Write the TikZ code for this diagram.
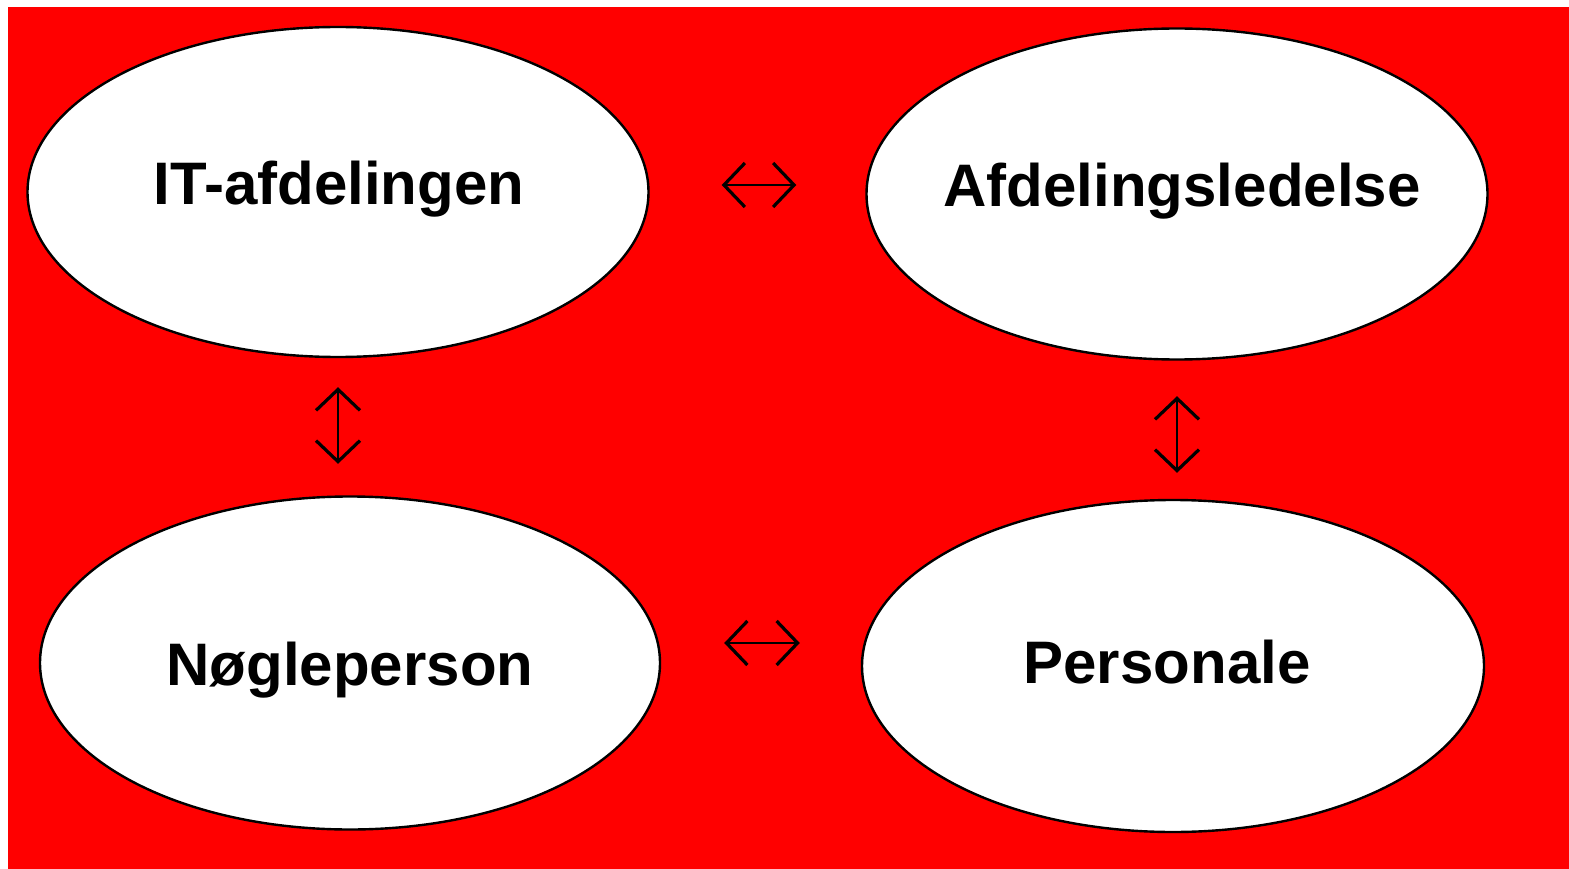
\documentclass[tikz,border=0pt]{standalone}
\usepackage{fontspec}
\setmainfont{Liberation Sans}
\usetikzlibrary{shapes.geometric,arrows.meta}
\definecolor{bgred}{RGB}{255,0,0}
\tikzset{
  oval/.style={ellipse, draw=black, line width=2.4pt, fill=white, inner sep=0pt,
    font=\fontsize{60}{60}\selectfont\bfseries, text depth=0pt},
  biarrow/.style={line width=2.2pt, black,
    {Straight Barb[length=21pt,width=44pt,line width=3.2pt]}-{Straight Barb[length=21pt,width=44pt,line width=3.2pt]}}
}
\newcommand{\zw}[2][0pt]{\makebox[0pt]{\hspace*{#1}#2}}
\begin{document}
\begin{tikzpicture}[x=1pt,y=-1pt]
\useasboundingbox (0,0) rectangle (1569,869);
\fill[white] (0,0) rectangle (1569,869);
\fill[bgred] (8,7) rectangle (1569,869);
\node[oval, minimum width=621pt, minimum height=330pt, text height=26pt] (it) at (338,192) {\zw[2pt]{IT-afdelingen}};
\node[oval, minimum width=621pt, minimum height=331pt, text height=26pt] (afd) at (1177,194) {\zw[10pt]{Afdelingsledelse}};
\node[oval, minimum width=620pt, minimum height=333pt, text height=44pt] (nog) at (350,663) {\zw{Nøgleperson}};
\node[oval, minimum width=622pt, minimum height=332pt, text height=34pt] (per) at (1173,666) {\zw[-12pt]{Personale}};
\draw[biarrow, shorten <=72pt, shorten >=69pt] ([yshift=7pt]it.east) -- ([yshift=9pt]afd.west);
\draw[biarrow, shorten <=29pt, shorten >=31.5pt] (it.south) -- ([xshift=-12pt]nog.north);
\draw[biarrow, shorten <=35.5pt, shorten >=26pt] (afd.south) -- ([xshift=4pt]per.north);
\draw[biarrow, shorten <=63pt, shorten >=61pt] ([yshift=20pt]nog.east) -- ([yshift=23pt]per.west);
\end{tikzpicture}
\end{document}
